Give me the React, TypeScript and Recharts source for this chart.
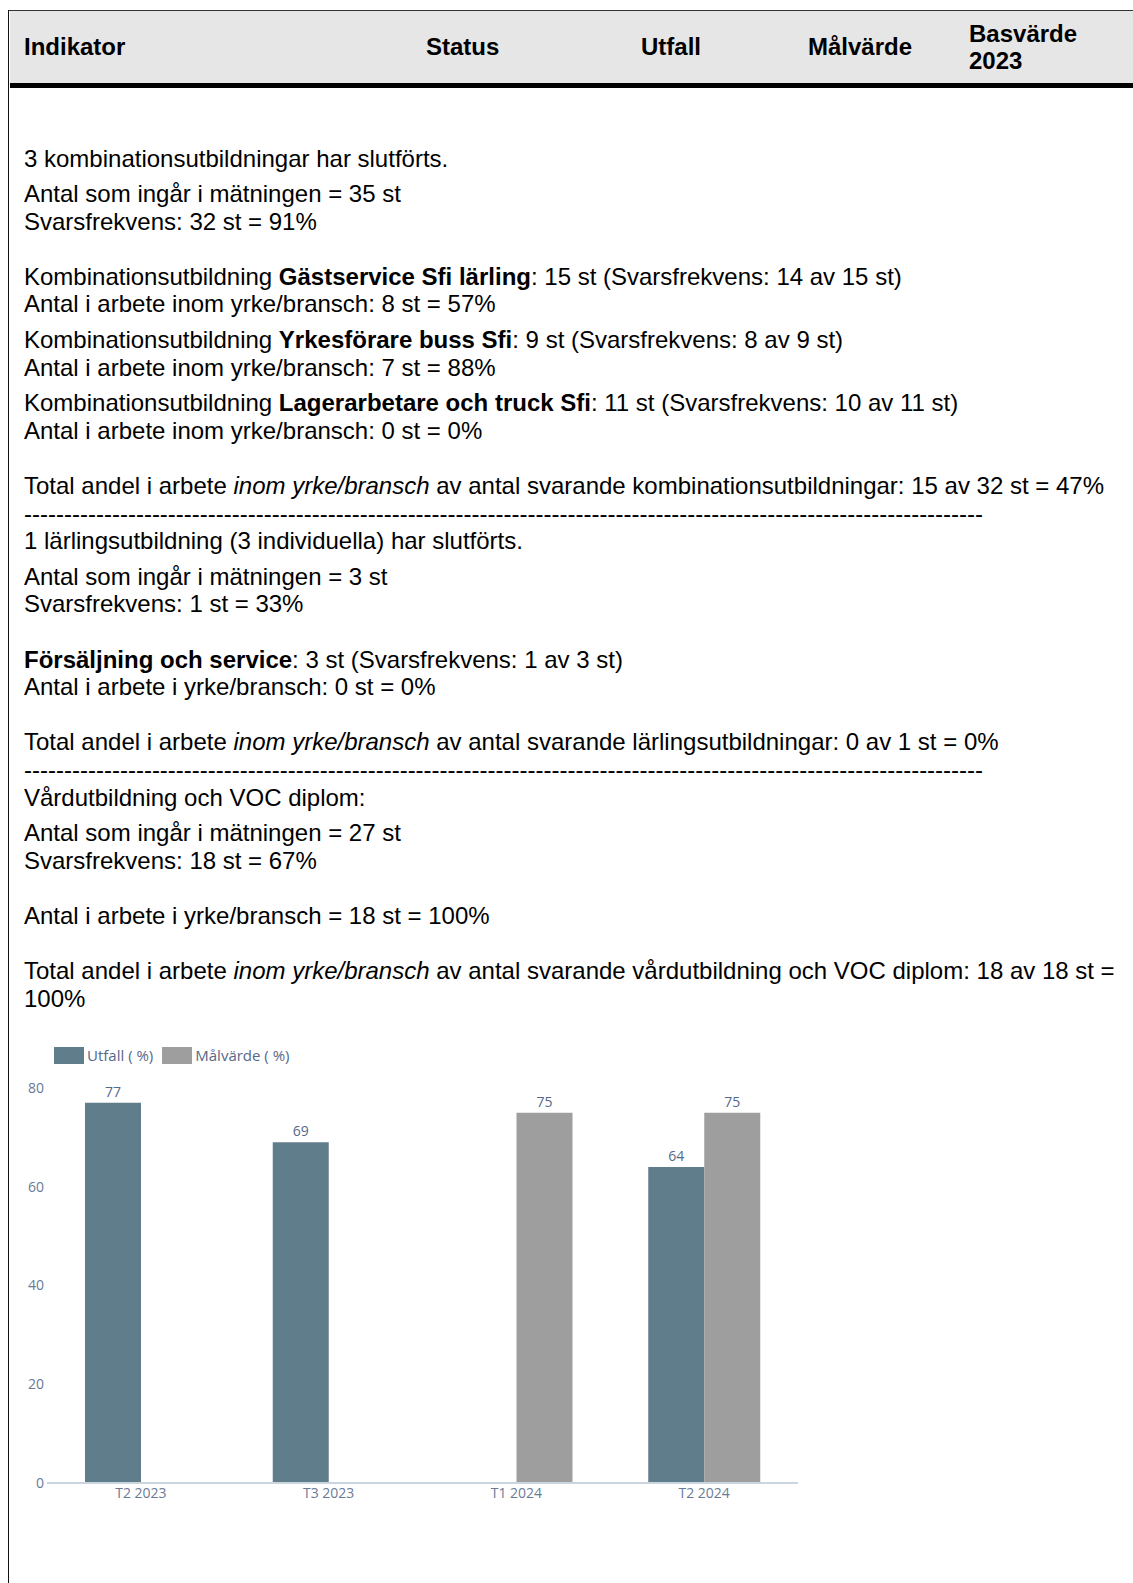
import React from "react";
import { BarChart, Bar, XAxis, YAxis, Legend, LabelList } from "recharts";

const periods = ["T2 2023", "T3 2023", "T1 2024", "T2 2024"];
const utfall: (number | null)[] = [77, 69, null, 64];
const malvarde: (number | null)[] = [null, null, 75, 75];
const yTicks = [0, 20, 40, 60, 80];

const seriesNames = { utfall: "Utfall ( %)", malvarde: "Målvärde ( %)" };
const seriesOrder = [seriesNames.utfall, seriesNames.malvarde];
const colors = { utfall: "#607d8b", malvarde: "#9e9e9e" };

const chartData = periods.map((p, i) => ({
  period: p,
  utfall: utfall[i],
  malvarde: malvarde[i],
}));

const textFont = '"Liberation Sans", Arial, sans-serif';
const chartFont = '"Open Sans", "Noto Sans", sans-serif';
const dashes = "-".repeat(120);

const ChartLegend = (props: any) => {
  // keep the series order (legend sorts by name otherwise)
  const items = [...(props.payload || [])].sort(
    (a: any, b: any) => seriesOrder.indexOf(a.value) - seriesOrder.indexOf(b.value)
  );
  return (
    <div style={{ display: "flex", alignItems: "center", fontFamily: chartFont, fontSize: 15, color: "#56688a", lineHeight: "20px", whiteSpace: "nowrap" }}>
      {items.map((it: any) => (
        <div key={it.value} style={{ display: "flex", alignItems: "center", marginRight: 9 }}>
          <span style={{ display: "inline-block", width: 30, height: 17, background: it.color, marginRight: 3 }} />
          <span>{it.value}</span>
        </div>
      ))}
    </div>
  );
};

const Line = ({ mt = 0, children }: { mt?: number; children?: React.ReactNode }) => (
  <div style={{ marginTop: mt, whiteSpace: "nowrap", height: 27.6 }}>{children}</div>
);

const Blank = () => <div style={{ height: 27.6 }} />;

export default function App() {
  return (
    <div style={{ position: "absolute", left: 0, top: 0, width: 1133, height: 1583, overflow: "hidden", background: "#fff", fontFamily: textFont, color: "#000" }}>
      {/* frame */}
      <div style={{ position: "absolute", left: 8, top: 10, width: 1200, height: 1600, borderLeft: "1.5px solid #111", borderTop: "1px solid #333" }} />
      <div style={{ position: "absolute", left: 9.5, top: 11, width: 1200, height: 72, background: "#e6e6e6" }} />
      <div style={{ position: "absolute", left: 9.5, top: 83, width: 1200, height: 5, background: "#000" }} />

      {/* header */}
      <div style={{ fontWeight: "bold", fontSize: 24, lineHeight: "27.6px" }}>
        <div style={{ position: "absolute", left: 24, top: 33 }}>Indikator</div>
        <div style={{ position: "absolute", left: 426, top: 33 }}>Status</div>
        <div style={{ position: "absolute", left: 641, top: 33 }}>Utfall</div>
        <div style={{ position: "absolute", left: 808, top: 33 }}>Målvärde</div>
        <div style={{ position: "absolute", left: 969, top: 19.5, lineHeight: "27.3px" }}>
          Basvärde
          <br />
          2023
        </div>
      </div>

      {/* body text */}
      <div style={{ position: "absolute", left: 24, top: 144.5, fontSize: 24, lineHeight: "27.6px" }}>
        <Line>3 kombinationsutbildningar har slutförts.</Line>
        <Line mt={8}>Antal som ingår i mätningen = 35 st</Line>
        <Line>Svarsfrekvens: 32 st = 91%</Line>
        <Blank />
        <Line>
          Kombinationsutbildning <b>Gästservice Sfi lärling</b>: 15 st (Svarsfrekvens: 14 av 15 st)
        </Line>
        <Line>Antal i arbete inom yrke/bransch: 8 st = 57%</Line>
        <Line mt={8}>
          Kombinationsutbildning <b>Yrkesförare buss Sfi</b>: 9 st (Svarsfrekvens: 8 av 9 st)
        </Line>
        <Line>Antal i arbete inom yrke/bransch: 7 st = 88%</Line>
        <Line mt={8}>
          Kombinationsutbildning <b>Lagerarbetare och truck Sfi</b>: 11 st (Svarsfrekvens: 10 av 11 st)
        </Line>
        <Line>Antal i arbete inom yrke/bransch: 0 st = 0%</Line>
        <Blank />
        <Line>
          Total andel i arbete <i>inom yrke/bransch</i> av antal svarande kombinationsutbildningar: 15 av 32 st = 47%
        </Line>
        <Line>{dashes}</Line>
        <Line>1 lärlingsutbildning (3 individuella) har slutförts.</Line>
        <Line mt={8}>Antal som ingår i mätningen = 3 st</Line>
        <Line>Svarsfrekvens: 1 st = 33%</Line>
        <Blank />
        <Line>
          <b>Försäljning och service</b>: 3 st (Svarsfrekvens: 1 av 3 st)
        </Line>
        <Line>Antal i arbete i yrke/bransch: 0 st = 0%</Line>
        <Blank />
        <Line>
          Total andel i arbete <i>inom yrke/bransch</i> av antal svarande lärlingsutbildningar: 0 av 1 st = 0%
        </Line>
        <Line>{dashes}</Line>
        <Line>Vårdutbildning och VOC diplom:</Line>
        <Line mt={8}>Antal som ingår i mätningen = 27 st</Line>
        <Line>Svarsfrekvens: 18 st = 67%</Line>
        <Blank />
        <Line>Antal i arbete i yrke/bransch = 18 st = 100%</Line>
        <Blank />
        <Line>
          Total andel i arbete <i>inom yrke/bransch</i> av antal svarande vårdutbildning och VOC diplom: 18 av 18 st =
        </Line>
        <Line>100%</Line>
      </div>

      {/* chart */}
      <div style={{ position: "absolute", left: 0, top: 1030 }}>
        <BarChart
          width={800}
          height={500}
          data={chartData}
          margin={{ top: 58, right: 2, left: 0, bottom: 17 }}
          barGap={0}
          barSize={56}
        >
          <XAxis
            dataKey="period"
            axisLine={{ stroke: "#cbd5e0", strokeWidth: 2 }}
            tickLine={false}
            tickSize={0}
            tickMargin={5}
            height={30}
            tick={{ fontSize: 14, fill: "#6a7a96", fontFamily: chartFont }}
          />
          <YAxis
            width={47}
            domain={[0, 80]}
            ticks={yTicks}
            axisLine={false}
            tickLine={false}
            tickSize={0}
            tickMargin={3}
            tick={{ fontSize: 14, fill: "#6a7a96", fontFamily: chartFont }}
          />
          <Legend
            verticalAlign="middle"
            align="center"
            wrapperStyle={{ top: 15, left: 54 }}
            content={ChartLegend}
          />
          <Bar dataKey="utfall" name={seriesNames.utfall} fill={colors.utfall} isAnimationActive={false}>
            <LabelList dataKey="utfall" position="top" offset={6} style={{ fontSize: 14, fill: "#56688a", fontFamily: chartFont }} />
          </Bar>
          <Bar dataKey="malvarde" name={seriesNames.malvarde} fill={colors.malvarde} isAnimationActive={false}>
            <LabelList dataKey="malvarde" position="top" offset={6} style={{ fontSize: 14, fill: "#56688a", fontFamily: chartFont }} />
          </Bar>
        </BarChart>
      </div>
    </div>
  );
}
